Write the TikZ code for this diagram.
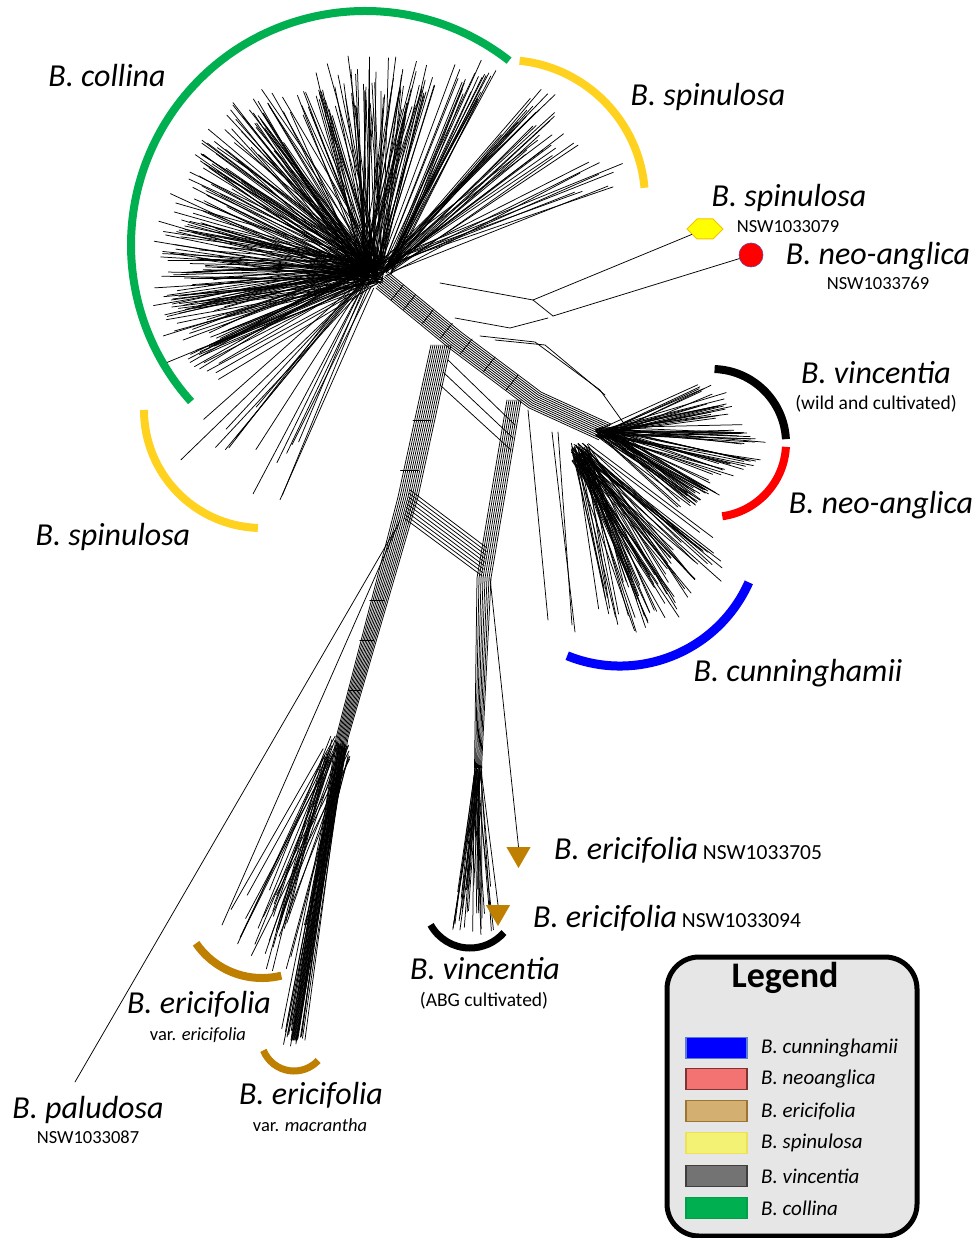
\documentclass[tikz,border=0pt]{standalone}
\usepackage{fontspec}
\setmainfont{Carlito}
\usetikzlibrary{calc,shapes.geometric,shapes.symbols}
\definecolor{bkcollina}{HTML}{00B050}
\definecolor{bkspinul}{HTML}{FFD21F}
\definecolor{bkcunning}{HTML}{0000FF}
\definecolor{bkneo}{HTML}{FF0000}
\definecolor{bkeric}{HTML}{BF7F00}
\definecolor{bkhexfill}{HTML}{FFFF00}
\definecolor{bkhexline}{HTML}{F2C200}
\definecolor{bkdotline}{HTML}{7A3D8C}
\definecolor{bklegfill}{HTML}{E6E6E6}
\definecolor{bklgblue}{HTML}{0000FF}
\definecolor{bklgblueline}{HTML}{5B7BD5}
\definecolor{bklgneo}{HTML}{F27371}
\definecolor{bklgneoline}{HTML}{7F3333}
\definecolor{bklgeric}{HTML}{D3B071}
\definecolor{bklgericline}{HTML}{9C7434}
\definecolor{bklgspin}{HTML}{F3F274}
\definecolor{bklgspinline}{HTML}{EDE15A}
\definecolor{bklgvinc}{HTML}{737373}
\definecolor{bklgvincline}{HTML}{3F3F3F}
\definecolor{bklgcoll}{HTML}{00B050}
\definecolor{bklgcollline}{HTML}{00A04A}
\tikzset{
  bkline/.style={line width=0.75pt, black, line cap=round},
  bkarc/.style={line width=8pt},
  bkname/.style={font=\fontsize{32}{38}\selectfont\itshape, inner sep=0pt, anchor=base},
  bknote/.style={font=\fontsize{18.5}{22}\selectfont, inner sep=0pt, anchor=base},
  bktri/.style={regular polygon, regular polygon sides=3, shape border rotate=180,
    fill=bkeric, inner sep=0pt, minimum size=28pt},
  bkswatch/.style={minimum width=61pt, minimum height=21pt, inner sep=0pt, line width=1.2pt},
  bklegtext/.style={font=\fontsize{21}{25}\selectfont\itshape, inner sep=0pt, anchor=west}
}
% random fan of leaves: count, origin, min angle, angle span, min length, length span, jitter
\newcommand{\bkfan}[7]{%
  \foreach \i in {1,...,#1}{%
    \pgfmathsetmacro\bkang{#3+#4*rnd}%
    \pgfmathsetmacro\bklen{#5+#6*rnd}%
    \pgfmathsetmacro\bkjx{#7*(2*rnd-1)}%
    \pgfmathsetmacro\bkjy{#7*(2*rnd-1)}%
    \draw[bkline] ($(#2)+(\bkjx,\bkjy)$) -- ++(\bkang:\bklen);
  }%
}
\begin{document}
\begin{tikzpicture}[x=1pt,y=-1pt]
  \useasboundingbox (0,0) rectangle (976,1238);
  \pgfmathsetseed{4242}

  % network
  \coordinate (hub) at (372,272);
  \coordinate (hubur) at (386,268);
  \coordinate (hubll) at (366,284);
  \coordinate (vnfan) at (605,432);
  \coordinate (cufan) at (580,452);
  \coordinate (abgfan) at (478,770);
  \coordinate (ericfan) at (336,750);
  \coordinate (macfan) at (342,745);

  \bkfan{280}{hub}{-212}{140}{160}{55}{12}
  \bkfan{22}{hubur}{-70}{9}{190}{38}{7}
  \bkfan{28}{hubur}{-50}{17}{185}{55}{8}
  \bkfan{10}{hubur}{-28}{10}{200}{62}{8}
  \bkfan{16}{hubll}{112}{28}{160}{90}{8}

  \foreach \o in {-10,-8,-6,-4,-2,0,2,4,6,8,10}{%
    \draw[bkline, shift={({0.62*\o},{-0.78*(\o)})}] (382,280) -- (455,340) -- (535,400) -- (605,432);
  }
  \foreach \t in {0.1,0.18,0.3,0.42,0.55,0.7,0.85}{%
    \draw[bkline] ($(382,280)!\t!(535,400)+(-6,8)$) -- ++(12,-15);
  }

  \draw[bkline] (440,283) -- (533,300);
  \draw[bkline] (533,300) -- (553,316);
  \draw[bkline] (455,318) -- (510,328) -- (548,318);
  \draw[bkline] (480,336) -- (535,342) -- (600,390) -- (625,425);
  \draw[bkline] (495,340) -- (545,345) -- (605,395);

  \foreach \i in {1,...,90}{%
    \pgfmathsetmacro\bkang{-26+70*rnd}
    \pgfmathsetmacro\bklen{(158-1.3*abs(\bkang-8))*(0.8+0.2*rnd)}
    \pgfmathsetmacro\bkjx{-10+18*rnd}
    \pgfmathsetmacro\bkjy{-5+10*rnd}
    \draw[bkline] ($(vnfan)+(\bkjx,\bkjy)$) -- ++(\bkang:\bklen);
  }
  \bkfan{80}{cufan}{36}{46}{130}{62}{9}

  \foreach \o in {-10,-8,-6,-4,-2,0,2,4,6,8,10}{%
    \draw[bkline] (441+\o,345) -- (408+\o,497) -- (342+0.6*\o,738) -- (294+0.3*\o,1040);
  }
  \foreach \yy/\w in {420/9,470/9,600/7,640/7,690/6}{%
    \draw[bkline] ($(441,345)!{(\yy-345)/393}!(342,738)+(-\w,0)$) -- ++(2*\w,0);
  }
  \foreach \o in {-7,-5,-3,-1,1,3,5,7}{%
    \draw[bkline] (514+\o,400) -- (484+\o,578) -- (478+0.5*\o,768);
  }
  \foreach \k in {0,...,8}{%
    \draw[bkline] (410-0.75*\k,490+3.5*\k) -- (487-0.6*\k,548+3.5*\k);
  }
  \draw[bkline] (448,360) -- (515,425);
  \draw[bkline] (443,372) -- (513,438);
  \draw[bkline] (440,385) -- (511,450);
  \draw[bkline] (528,410) -- (548,620);
  \draw[bkline] (552,432) -- (575,632);
  \draw[bkline] (558,432) -- (572,625);

  \bkfan{32}{ericfan}{102}{18}{160}{60}{14}
  \bkfan{22}{macfan}{97.5}{4}{285}{18}{4}
  \bkfan{32}{abgfan}{83}{17}{115}{50}{4}

  \draw[bkline] (395,530) -- (75,1082);
  \draw[bkline] (400,520) -- (222,925);

  % clade arcs
  \draw[bkarc, bkcollina] ($(365,245)+(-52:234)$) arc[start angle=-52, end angle=-222, radius=234];
  \draw[bkarc, bkspinul] ($(505,200)+(-84:140)$) arc[start angle=-84, end angle=-5, radius=140];
  \draw[bkarc, bkspinul] ($(262,410)+(180:118)$) arc[start angle=180, end angle=92, radius=118];
  \draw[bkarc, black] ($(712,443)+(-88:74)$) arc[start angle=-88, end angle=-3, radius=74];
  \draw[bkarc, bkneo] ($(712,443)+(3:74)$) arc[start angle=3, end angle=82, radius=74];
  \draw[bkarc, bkcunning, line width=9pt] ($(620,525)+(24:141)$) arc[start angle=24, end angle=112, radius=141];
  \draw[bkarc, bkeric] ($(262,898)+(145.5:80)$) arc[start angle=145.5, end angle=76, radius=80];
  \draw[bkarc, bkeric, line width=7pt] ($(294,1038)+(158:33)$) arc[start angle=158, end angle=43, radius=33];
  \draw[bkarc, black, line width=7pt] ($(470,903)+(151:45)$) arc[start angle=151, end angle=41, radius=45];

  % single specimens
  \node[signal, signal to=east and west, fill=bkhexfill, draw=bkhexline, line width=1pt,
    minimum width=36pt, minimum height=20pt, inner sep=0pt] (hexspin) at (705,229) {};
  \node[circle, fill=bkneo, draw=bkdotline, line width=0.6pt, minimum size=24pt, inner sep=0pt] (neodot) at (751,255) {};
  \node[bktri] (eritop) at (518.5,854) {};
  \node[bktri] (eribot) at (498,912) {};
  \draw[bkline] (533,300) -- (hexspin);
  \draw[bkline] (553,316) -- (neodot);
  \draw[bkline] (490,578) -- (eritop.north);
  \draw[bkline] (481,770) -- (eribot.north);

  % labels
  \node[bkname] (lcollina) at (107,87) {B. collina};
  \node[bkname] (lspintop) at (708,106) {B. spinulosa};
  \node[bkname] (lspinhex) at (789,207) {B. spinulosa};
  \node[bknote] (nspinhex) at (788,233) {NSW1033079};
  \node[bkname] (lneodot) at (878,265) {B. neo-anglica};
  \node[bknote] (nneodot) at (878,290) {NSW1033769};
  \node[bkname] (lvincw) at (876,383) {B. vincentia};
  \node[bknote, font=\fontsize{19.5}{23}\selectfont] (nvincw) at (876,409) {(wild and cultivated)};
  \node[bkname] (lneo) at (881,513) {B. neo-anglica};
  \node[bkname] (lcunn) at (798,681) {B. cunninghamii};
  \node[bkname] (lspinll) at (113,545) {B. spinulosa};
  \node[bkname, anchor=base west] (leritop) at (554,859)
    {B. ericifolia{\upshape\fontsize{21.5}{25}\selectfont\ NSW1033705}};
  \node[bkname, anchor=base west] (leribot) at (533,927)
    {B. ericifolia{\upshape\fontsize{21.5}{25}\selectfont\ NSW1033094}};
  \node[bkname] (lvincabg) at (485,979) {B. vincentia};
  \node[bknote, font=\fontsize{19.5}{23}\selectfont] (nvincabg) at (484,1006) {(ABG cultivated)};
  \node[bkname] (lerivar) at (199,1013) {B. ericifolia};
  \node[bknote] (nerivar) at (198,1040) {var. \textit{ericifolia}};
  \node[bkname] (lerimac) at (311,1104) {B. ericifolia};
  \node[bknote] (nerimac) at (310,1131) {var. \textit{macrantha}};
  \node[bkname] (lpalu) at (88,1118) {B. paludosa};
  \node[bknote] (npalu) at (88,1143) {NSW1033087};

  % legend
  \draw[line width=5pt, fill=bklegfill, rounded corners=32pt] (667,957) rectangle (917,1236);
  \node[font=\fontsize{36}{40}\selectfont\bfseries, inner sep=0pt, anchor=base] (legtitle) at (785,987) {Legend};
  \foreach \nm/\fc/\dc/\yy/\txt in {%
      cunn/bklgblue/bklgblueline/1048/B. cunninghamii,
      neo/bklgneo/bklgneoline/1079/B. neoanglica,
      eric/bklgeric/bklgericline/1111/B. ericifolia,
      spin/bklgspin/bklgspinline/1143/B. spinulosa,
      vinc/bklgvinc/bklgvincline/1176/B. vincentia,
      coll/bklgcoll/bklgcollline/1208/B. collina}{%
    \node[bkswatch, fill=\fc, draw=\dc] (sw\nm) at (716.5,\yy) {};
    \node[bklegtext] (lg\nm) at (761,\yy) {\txt};
  }
\end{tikzpicture}
\end{document}
